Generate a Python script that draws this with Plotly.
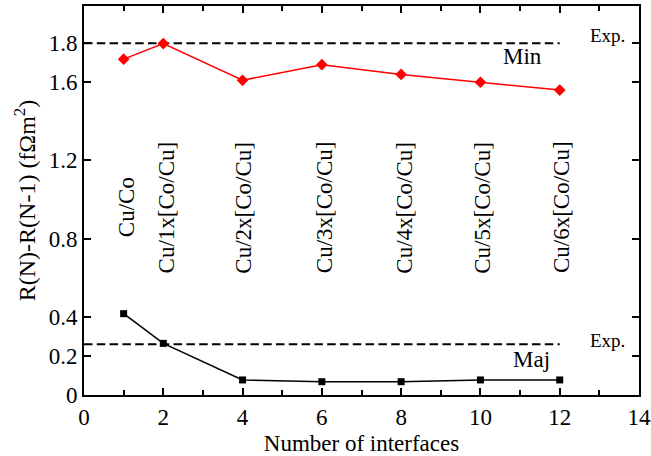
import plotly.graph_objects as go

# Interface counts and resistance steps for the two spin channels
n_interfaces = [1, 2, 4, 6, 8, 10, 12]
r_min = [1.718, 1.798, 1.61, 1.69, 1.64, 1.60, 1.56]
r_maj = [0.416, 0.264, 0.077, 0.068, 0.068, 0.077, 0.077]

# Experimental reference levels
exp_min = 1.8
exp_maj = 0.26
exp_x = [0, 12]

# Multilayer structure labels, one per interface count
structures = ["Cu/Co", "Cu/1x[Co/Cu]", "Cu/2x[Co/Cu]", "Cu/3x[Co/Cu]",
              "Cu/4x[Co/Cu]", "Cu/5x[Co/Cu]", "Cu/6x[Co/Cu]"]
structure_x = [1.08, 2.07, 4.02, 6.05, 8.08, 10.05, 12.05]
structure_y = 0.96

y_ticks = [0, 0.2, 0.4, 0.8, 1.2, 1.6, 1.8]
y_tick_text = ["0", "0.2", "0.4", "0.8", "1.2", "1.6", "1.8"]

FONT = "Liberation Serif"
DASH = "8.5px,4.3px"

fig = go.Figure()

fig.add_trace(go.Scatter(x=exp_x, y=[exp_min, exp_min], mode="lines",
                         line=dict(color="black", width=2, dash=DASH),
                         showlegend=False))
fig.add_trace(go.Scatter(x=exp_x, y=[exp_maj, exp_maj], mode="lines",
                         line=dict(color="black", width=2, dash=DASH),
                         showlegend=False))

fig.add_trace(go.Scatter(x=n_interfaces, y=r_min, mode="lines+markers",
                         line=dict(color="#ff0000", width=1.5),
                         marker=dict(symbol="diamond", size=9, color="#ff0000"),
                         showlegend=False))
fig.add_trace(go.Scatter(x=n_interfaces, y=r_maj, mode="lines+markers",
                         line=dict(color="black", width=1.5),
                         marker=dict(symbol="square", size=7, color="black"),
                         showlegend=False))

for label, xv in zip(structures, structure_x):
    fig.add_annotation(x=xv, y=structure_y, text=label, textangle=-90,
                       showarrow=False, font=dict(family=FONT, size=23, color="black"))

fig.add_annotation(x=13.2, y=1.84, text="Exp.", showarrow=False,
                   font=dict(family=FONT, size=19, color="black"))
fig.add_annotation(x=13.2, y=0.28, text="Exp.", showarrow=False,
                   font=dict(family=FONT, size=19, color="black"))
fig.add_annotation(x=11.05, y=1.73, text="Min", showarrow=False,
                   font=dict(family=FONT, size=23, color="black"))
fig.add_annotation(x=11.3, y=0.18, text="Maj", showarrow=False,
                   font=dict(family=FONT, size=23, color="black"))

fig.update_xaxes(range=[0, 14], tickmode="linear", tick0=0, dtick=2,
                 ticks="inside", ticklen=7, tickwidth=1.5, tickcolor="black",
                 minor=dict(ticks="inside", dtick=1, ticklen=5, tickwidth=1.5,
                            tickcolor="black", showgrid=False),
                 showline=True, linecolor="black", linewidth=2, mirror="allticks",
                 showgrid=False, zeroline=False, automargin=False,
                 tickfont=dict(family=FONT, size=23, color="black"),
                 title=dict(text="Number of interfaces", standoff=8,
                            font=dict(family=FONT, size=23, color="black")))
fig.update_yaxes(range=[0, 1.99], tickmode="array", tickvals=y_ticks, ticktext=y_tick_text,
                 ticks="inside", ticklen=7, tickwidth=1.5, tickcolor="black",
                 showline=True, linecolor="black", linewidth=2, mirror="allticks",
                 showgrid=False, zeroline=False, automargin=False,
                 tickfont=dict(family=FONT, size=23, color="black"),
                 title=dict(text="R(N)-R(N-1) (fΩm<sup>2</sup>)", standoff=6,
                            font=dict(family=FONT, size=24, color="black")))

fig.update_layout(width=651, height=456, plot_bgcolor="white", paper_bgcolor="white",
                  margin=dict(l=84, r=12, t=6, b=61), showlegend=False)

fig.write_html("out.html")
